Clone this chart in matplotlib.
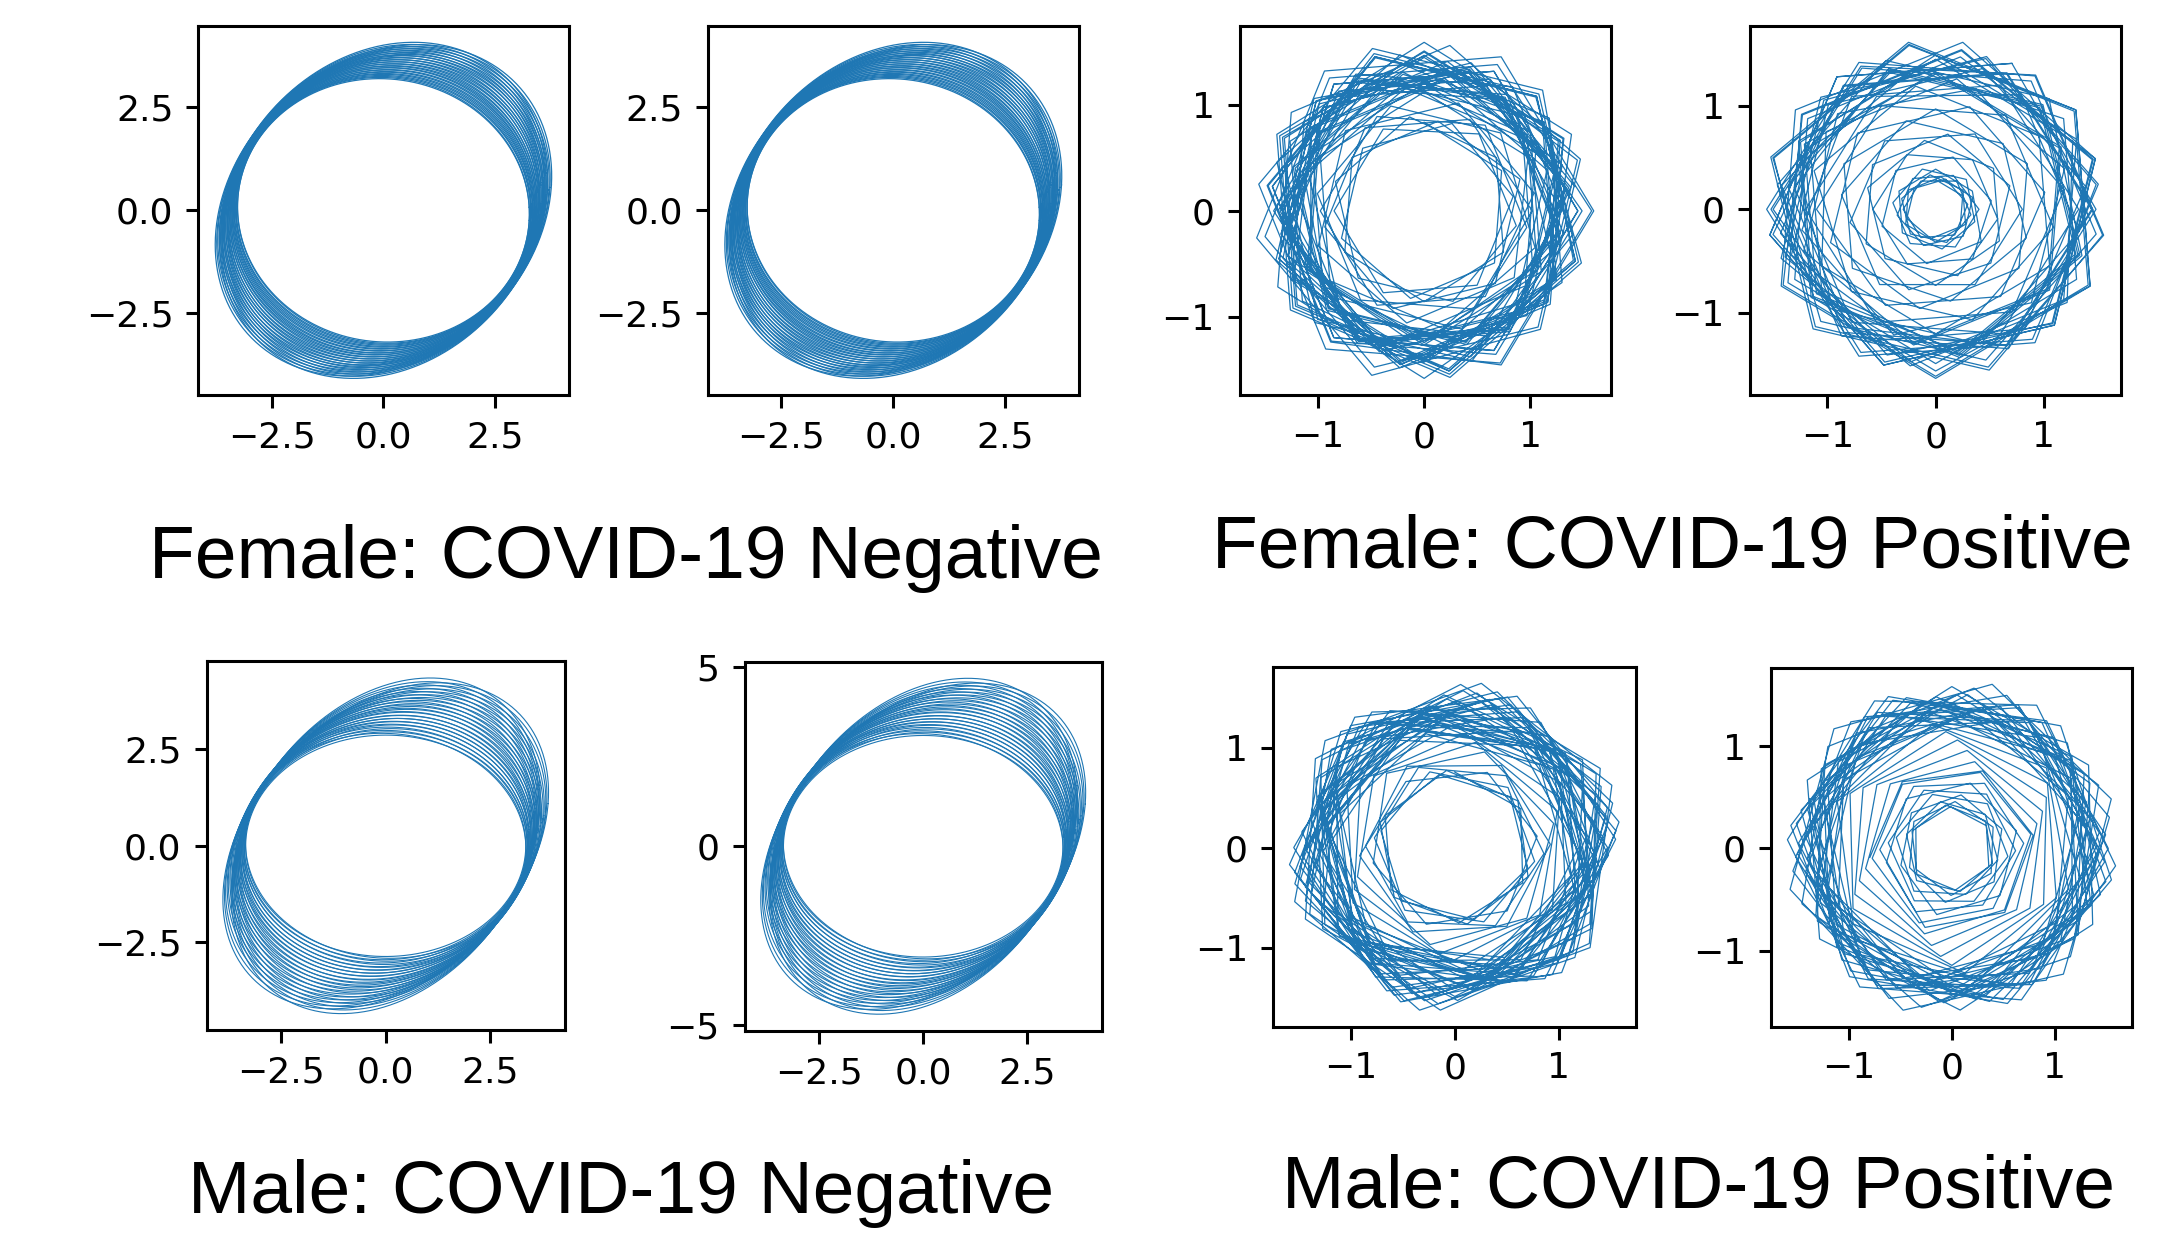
import numpy as np
import matplotlib.pyplot as plt

plt.rcParams['font.family'] = 'DejaVu Sans'

BLUE = '#1f77b4'

# COVID-19 negative panels: one loop per entry
# x amplitude, y amplitude, x/y phase shift (as sine) and a small tilt (deg)
fneg_ax = [3.26, 3.27, 3.29, 3.30, 3.31, 3.33, 3.34, 3.35, 3.37, 3.38, 3.39, 3.40,
           3.42, 3.43, 3.44, 3.46, 3.47, 3.48, 3.50, 3.51, 3.52, 3.54, 3.55, 3.56,
           3.58, 3.59, 3.60, 3.61, 3.63, 3.64, 3.65, 3.67, 3.68, 3.69, 3.71, 3.72]
fneg_ay = [3.20, 3.22, 3.25, 3.27, 3.30, 3.32, 3.35, 3.37, 3.40, 3.42, 3.45, 3.47,
           3.49, 3.52, 3.54, 3.57, 3.59, 3.62, 3.64, 3.67, 3.69, 3.72, 3.74, 3.77,
           3.79, 3.81, 3.84, 3.86, 3.89, 3.91, 3.94, 3.96, 3.99, 4.01, 4.04, 4.06]
fneg_ph = [-0.030, -0.023, -0.017, -0.010, -0.004, 0.003, 0.009, 0.016, 0.023, 0.029, 0.036, 0.042,
           0.049, 0.055, 0.062, 0.069, 0.075, 0.082, 0.088, 0.095, 0.101, 0.108, 0.115, 0.121,
           0.128, 0.134, 0.141, 0.147, 0.154, 0.161, 0.167, 0.174, 0.180, 0.187, 0.193, 0.200]
fneg_tilt = [3, -3, 3, -3, 3, -3, 3, -3, 3, -3, 3, -3,
             3, -3, 3, -3, 3, -3, 3, -3, 3, -3, 3, -3,
             3, -3, 3, -3, 3, -3, 3, -3, 3, -3, 3, -3]

mneg_ax = [3.35, 3.36, 3.38, 3.39, 3.40, 3.41, 3.43, 3.44, 3.45, 3.47, 3.48, 3.49,
           3.50, 3.52, 3.53, 3.54, 3.56, 3.57, 3.58, 3.59, 3.61, 3.62, 3.63, 3.65,
           3.66, 3.67, 3.68, 3.70, 3.71, 3.72, 3.74, 3.75, 3.76, 3.77, 3.79, 3.80]
mneg_ay = [2.87, 2.91, 2.95, 2.99, 3.03, 3.08, 3.12, 3.16, 3.20, 3.24, 3.28, 3.32,
           3.36, 3.40, 3.45, 3.49, 3.53, 3.57, 3.61, 3.65, 3.69, 3.73, 3.77, 3.82,
           3.86, 3.90, 3.94, 3.98, 4.02, 4.06, 4.10, 4.14, 4.18, 4.23, 4.27, 4.31]
mneg_ph = [-0.020, -0.010, -0.001, 0.009, 0.018, 0.028, 0.038, 0.047, 0.057, 0.066, 0.076, 0.086,
           0.095, 0.105, 0.114, 0.124, 0.134, 0.143, 0.153, 0.162, 0.172, 0.182, 0.191, 0.201,
           0.210, 0.220, 0.230, 0.239, 0.249, 0.258, 0.268, 0.278, 0.287, 0.297, 0.306, 0.316]
mneg_tilt = [4, -4, 4, -4, 4, -4, 4, -4, 4, -4, 4, -4,
             4, -4, 4, -4, 4, -4, 4, -4, 4, -4, 4, -4,
             4, -4, 4, -4, 4, -4, 4, -4, 4, -4, 4, -4]

# COVID-19 positive panels: radius of each turn of the polygon spiral
fpos1_r = [0.82, 0.85, 0.88, 0.84, 0.95, 1.02, 1.10, 1.05, 0.98, 1.15, 1.22, 1.30,
           1.25, 1.18, 1.35, 1.42, 1.38, 1.30, 1.45, 1.50, 1.44, 1.36, 1.28, 1.40,
           1.52, 1.58, 1.48, 1.40, 1.33, 1.46, 1.55, 1.60, 1.50, 1.42, 1.35, 1.27,
           1.20, 1.32, 1.45, 1.53, 1.47, 1.38, 1.30, 1.24, 1.37, 1.49, 1.56, 1.44]
fpos2_r = [0.28, 0.30, 0.33, 0.31, 0.36, 0.40, 0.38, 0.52, 0.58, 0.66, 0.72, 0.80,
           0.88, 0.95, 1.02, 1.10, 1.18, 1.25, 1.32, 1.40, 1.46, 1.52, 1.57, 1.60,
           1.55, 1.48, 1.42, 1.50, 1.56, 1.60, 1.53, 1.45, 1.38, 1.30, 1.40, 1.50,
           1.58, 1.52, 1.44, 1.36, 1.28, 1.20, 1.34, 1.46, 1.55]
mpos1_r = [0.74, 0.76, 0.73, 0.78, 0.86, 0.92, 0.80, 0.98, 1.05, 1.12, 1.20, 1.28,
           1.35, 1.42, 1.48, 1.55, 1.60, 1.52, 1.45, 1.38, 1.30, 1.22, 1.15, 1.25,
           1.34, 1.43, 1.50, 1.58, 1.63, 1.54, 1.46, 1.39, 1.31, 1.24, 1.18, 1.27,
           1.36, 1.44, 1.53, 1.60, 1.50, 1.41, 1.33, 1.26, 1.37, 1.47, 1.56, 1.49]
mpos2_r = [0.80, 0.65, 0.52, 0.45, 0.40, 0.42, 0.46, 0.55, 0.62, 0.70, 0.78, 0.86,
           0.95, 1.04, 1.12, 1.20, 1.28, 1.35, 1.42, 1.50, 1.56, 1.62, 1.55, 1.47,
           1.40, 1.33, 1.45, 1.53, 1.60, 1.52, 1.44, 1.37, 1.30, 1.24, 1.34, 1.43,
           1.51, 1.58, 1.49, 1.41, 1.33, 1.27, 1.38, 1.48, 1.55, 1.46]

titles = ['Female: COVID-19 Negative', 'Female: COVID-19 Positive',
          'Male: COVID-19 Negative', 'Male: COVID-19 Positive']

W, H = 2160, 1233
fig = plt.figure(figsize=(W / 100, H / 100), dpi=100)


def make_ax(l, r, t, b):
    ax = fig.add_axes([l / W, 1 - b / H, (r - l) / W, (b - t) / H])
    for s in ax.spines.values():
        s.set_linewidth(2.2)
    ax.tick_params(labelsize=26, length=9, width=2.2, pad=9)
    return ax


def neg_plot(ax, amp_x, amp_y, ph, tilt, yscale=1.0, lw=0.9):
    t = np.linspace(0, 2 * np.pi, 300)
    for a, b, s, g in zip(amp_x, amp_y, ph, np.deg2rad(tilt)):
        x0 = a * np.cos(t)
        y0 = b * np.sin(t + np.arcsin(s))
        x = x0 * np.cos(g) - y0 * np.sin(g)
        y = x0 * np.sin(g) + y0 * np.cos(g)
        ax.plot(x, yscale * y, color=BLUE, lw=lw)
    ax.set_xticks([-2.5, 0, 2.5])


def pos_plot(ax, radii, per_turn, start, step_deg):
    r = np.repeat(radii, per_turn)
    ang = np.deg2rad(start + step_deg * np.arange(len(r)))
    ax.plot(r * np.cos(ang), 1.02 * r * np.sin(ang), color=BLUE, lw=0.9)
    ax.set_xticks([-1, 0, 1])
    ax.set_yticks([-1, 0, 1])


ax = make_ax(198.4, 568.5, 25.5, 395.2)
neg_plot(ax, fneg_ax, fneg_ay, fneg_ph, fneg_tilt)
ax.set_yticks([-2.5, 0, 2.5])
ax = make_ax(708.0, 1078.6, 25.5, 395.2)
neg_plot(ax, fneg_ax, fneg_ay, fneg_ph, fneg_tilt)
ax.set_yticks([-2.5, 0, 2.5])

ax = make_ax(1239.8, 1610.6, 25.5, 395.2)
pos_plot(ax, fpos1_r, 6, 90, -63)
ax = make_ax(1749.8, 2120.5, 25.5, 395.2)
pos_plot(ax, fpos2_r, 6, 90, -63)

ax = make_ax(206.6, 564.8, 661.2, 1030.4)
neg_plot(ax, mneg_ax, mneg_ay, mneg_ph, mneg_tilt, lw=0.8)
ax.set_yticks([-2.5, 0, 2.5])
ax = make_ax(744.5, 1101.9, 661.5, 1031.0)
neg_plot(ax, mneg_ax, mneg_ay, mneg_ph, mneg_tilt, yscale=1.08, lw=0.8)
ax.set_yticks([-5, 0, 5])

ax = make_ax(1273.0, 1635.5, 667.0, 1026.5)
pos_plot(ax, mpos1_r, 6, 90, -59)
ax = make_ax(1771.0, 2132.0, 668.0, 1026.5)
pos_plot(ax, mpos2_r, 6, 186, -59)

title_pos = [(626, 578), (1672, 568), (621, 1213), (1699, 1208)]
for txt, (x, y) in zip(titles, title_pos):
    fig.text(x / W, 1 - y / H, txt, ha='center', va='baseline',
             fontsize=54, family='Liberation Sans')

fig.savefig('out.png', dpi=100)
